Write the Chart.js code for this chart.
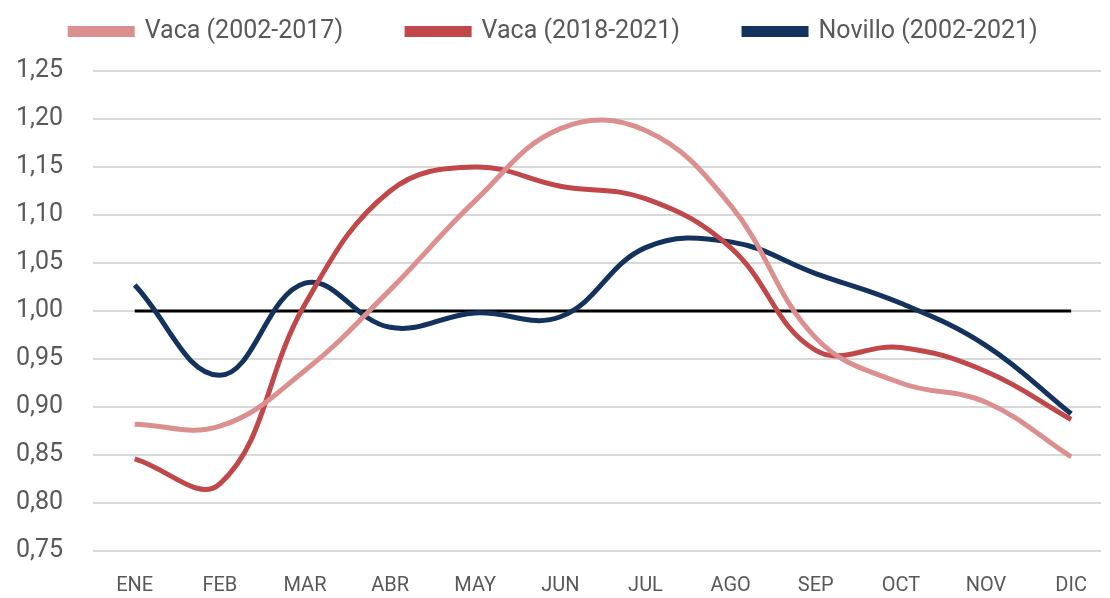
<!DOCTYPE html>
<html>
<head>
<meta charset="utf-8">
<script src="https://cdn.jsdelivr.net/npm/chart.js@4"></script>
<style>
  html, body { margin: 0; padding: 0; background: #fff; }
  #wrap { width: 1110px; height: 598px; position: relative; }
</style>
</head>
<body>
<div id="wrap"><canvas id="chart"></canvas></div>
<script>
// ══════════════════════════════
//  DATOS
// ══════════════════════════════
const meses = ['ENE', 'FEB', 'MAR', 'ABR', 'MAY', 'JUN', 'JUL', 'AGO', 'SEP', 'OCT', 'NOV', 'DIC'];
const vaca0217 = [0.882, 0.880, 0.938, 1.022, 1.115, 1.190, 1.188, 1.110, 0.972, 0.925, 0.905, 0.848];
const vaca1821 = [0.846, 0.820, 1.007, 1.125, 1.150, 1.130, 1.117, 1.066, 0.959, 0.962, 0.937, 0.887];
const novillo  = [1.027, 0.933, 1.029, 0.983, 0.998, 0.994, 1.066, 1.072, 1.039, 1.008, 0.964, 0.893];
const base     = [1, 1, 1, 1, 1, 1, 1, 1, 1, 1, 1, 1];
const yTicks   = [0.75, 0.80, 0.85, 0.90, 0.95, 1.00, 1.05, 1.10, 1.15, 1.20, 1.25];

const pts = (arr) => arr.map((v, i) => ({ x: i, y: v }));
const gris = '#595959';
const fuente = 'Roboto, "Liberation Sans", sans-serif';

// margen bajo la leyenda
const legendMargin = {
  id: 'legendMargin',
  beforeInit(chart) {
    const fit = chart.legend.fit;
    chart.legend.fit = function () {
      fit.bind(chart.legend)();
      this.height += 17;
    };
  }
};

function serie(label, data, color, width) {
  return {
    label: label,
    data: pts(data),
    borderColor: color,
    backgroundColor: color,
    borderWidth: width,
    pointRadius: 0,
    tension: 0.4,
    fill: false,
  };
}

new Chart(document.getElementById('chart'), {
  type: 'line',
  plugins: [legendMargin],
  data: {
    datasets: [
      serie('Vaca (2002-2017)', vaca0217, '#dc8f8f', 5),
      serie('Vaca (2018-2021)', vaca1821, '#c0474a', 5),
      serie('Novillo (2002-2021)', novillo, '#14325e', 5),
      Object.assign(serie('base', base, '#000000', 3), { tension: 0 }),
    ],
  },
  options: {
    devicePixelRatio: 1,
    animation: false,
    responsive: true,
    maintainAspectRatio: false,
    layout: { padding: { top: -45, right: 2, left: 0, bottom: 0 } },
    plugins: {
      tooltip: { enabled: false },
      legend: {
        position: 'top',
        labels: {
          filter: (item) => item.text !== 'base',
          color: gris,
          font: { family: fuente, size: 25 },
          boxWidth: 62,
          boxHeight: 6,
          padding: 64,
        },
      },
    },
    scales: {
      x: {
        type: 'linear',
        min: -0.49,
        max: 11.35,
        afterFit: (axis) => { axis.height = 47; },
        grid: { display: false, drawTicks: false },
        border: { display: false },
        ticks: {
          stepSize: 1,
          includeBounds: false,
          autoSkip: false,
          maxRotation: 0,
          color: gris,
          padding: 23,
          font: { family: fuente, size: 20 },
          callback: (v) => Number.isInteger(v) ? meses[v] : '',
        },
      },
      y: {
        min: 0.75,
        max: 1.25,
        afterFit: (axis) => { axis.width = 93; },
        afterBuildTicks: (axis) => { axis.ticks = yTicks.map(v => ({ value: v })); },
        grid: { color: '#d9d9d9', lineWidth: 2, drawTicks: false },
        border: { display: false },
        ticks: {
          color: gris,
          padding: 30,
          font: { family: fuente, size: 25 },
          callback: (v) => v.toFixed(2).replace('.', ','),
        },
      },
    },
  },
});
</script>
</body>
</html>
